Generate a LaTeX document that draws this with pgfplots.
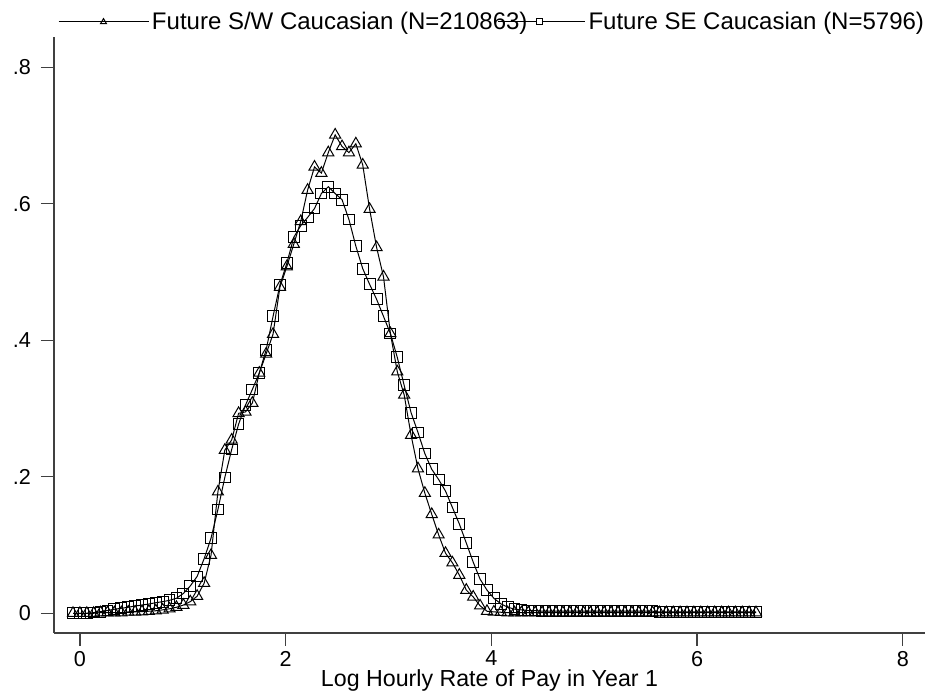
\documentclass[border=0pt]{standalone}
\usepackage{pgfplots}
\pgfplotsset{compat=1.18}
\usepackage{pgfplotstable}
\usepackage{fontspec}
\setmainfont{Liberation Sans}

\pgfplotstableread{
x y
-0.068 0.000
-0.001 0.000
0.066 0.000
0.133 0.000
0.200 0.001
0.267 0.001
0.334 0.001
0.402 0.001
0.469 0.002
0.536 0.002
0.603 0.0025
0.670 0.003
0.737 0.0037
0.804 0.005
0.871 0.0066
0.938 0.0088
1.005 0.012
1.072 0.017
1.139 0.025
1.207 0.044
1.274 0.085
1.341 0.178
1.408 0.239
1.475 0.254
1.542 0.293
1.609 0.295
1.676 0.308
1.743 0.352
1.810 0.380
1.877 0.409
1.944 0.478
2.011 0.508
2.079 0.541
2.146 0.574
2.213 0.620
2.280 0.654
2.347 0.645
2.414 0.675
2.481 0.701
2.548 0.684
2.615 0.675
2.682 0.688
2.749 0.657
2.816 0.592
2.884 0.536
2.951 0.493
3.018 0.410
3.085 0.354
3.152 0.320
3.219 0.261
3.286 0.212
3.353 0.176
3.420 0.145
3.487 0.115
3.554 0.088
3.621 0.074
3.688 0.056
3.756 0.034
3.823 0.024
3.890 0.011
3.957 0.003
4.024 0.002
4.091 0.0015
4.158 0.001
4.225 0.001
4.292 0.001
4.359 0.001
4.426 0.001
4.493 0.001
4.561 0.001
4.628 0.001
4.695 0.001
4.762 0.001
4.829 0.001
4.896 0.001
4.963 0.001
5.030 0.001
5.097 0.001
5.164 0.001
5.231 0.001
5.298 0.001
5.366 0.001
5.433 0.001
5.500 0.001
5.567 0.001
5.634 0.001
5.701 0.001
5.768 0.001
5.835 0.001
5.902 0.001
5.969 0.001
6.036 0.001
6.103 0.001
6.171 0.001
6.238 0.001
6.305 0.001
6.372 0.001
6.439 0.001
6.506 0.001
6.573 0.001
}\sw

\pgfplotstableread{
x y
-0.068 0.000
-0.001 0.000
0.066 0.000
0.133 0.001
0.200 0.0024
0.267 0.004
0.334 0.0059
0.402 0.0073
0.469 0.0088
0.536 0.0107
0.603 0.012
0.670 0.0136
0.737 0.0155
0.804 0.017
0.871 0.019
0.938 0.022
1.005 0.029
1.072 0.040
1.139 0.054
1.207 0.080
1.274 0.110
1.341 0.152
1.408 0.199
1.475 0.240
1.542 0.277
1.609 0.305
1.676 0.328
1.743 0.352
1.810 0.386
1.877 0.435
1.944 0.481
2.011 0.513
2.079 0.551
2.146 0.568
2.213 0.580
2.280 0.593
2.347 0.615
2.414 0.625
2.481 0.615
2.548 0.606
2.615 0.577
2.682 0.538
2.749 0.505
2.816 0.482
2.884 0.460
2.951 0.435
3.018 0.410
3.085 0.375
3.152 0.334
3.219 0.294
3.286 0.265
3.353 0.234
3.420 0.211
3.487 0.196
3.554 0.179
3.621 0.155
3.688 0.131
3.756 0.103
3.823 0.075
3.890 0.050
3.957 0.034
4.024 0.022
4.091 0.014
4.158 0.009
4.225 0.006
4.292 0.005
4.359 0.004
4.426 0.004
4.493 0.003
4.561 0.003
4.628 0.003
4.695 0.003
4.762 0.003
4.829 0.003
4.896 0.003
4.963 0.003
5.030 0.003
5.097 0.003
5.164 0.003
5.231 0.003
5.298 0.003
5.366 0.003
5.433 0.003
5.500 0.003
5.567 0.003
5.634 0.002
5.701 0.002
5.768 0.002
5.835 0.002
5.902 0.002
5.969 0.002
6.036 0.002
6.103 0.002
6.171 0.002
6.238 0.002
6.305 0.002
6.372 0.002
6.439 0.002
6.506 0.002
6.573 0.002
}\se

\begin{document}
\begin{tikzpicture}
\begin{axis}[
  scale only axis,
  width=435.5pt, height=298pt,
  xmin=-0.2528, xmax=8.216,
  ymin=-0.0289, ymax=0.8444,
  axis x line*=bottom, axis y line*=left,
  axis line style={-, black!75, line width=0.6pt},
  tick align=outside,
  major tick length=6.5pt,
  tick style={black!75, line width=0.6pt},
  xtick={0,2,4,6,8}, xticklabels={0,2,4,6,8},
  ytick={0,0.2,0.4,0.6,0.8}, yticklabels={0,.2,.4,.6,.8},
  minor tick num=0,
  tick label style={font=\fontsize{10.8}{12}\selectfont},
  yticklabel style={xshift=-1.5pt},
  xticklabel style={yshift=1pt},
  xlabel={Log Hourly Rate of Pay in Year 1},
  xlabel style={font=\fontsize{11.6}{13}\selectfont, at={(axis description cs:0.5,0)}, anchor=center, yshift=-24pt},
  clip=false,
  legend columns=2,
  legend style={draw=none, fill=none, inner sep=0pt, outer sep=0pt,
    at={(axis description cs:0,1)}, anchor=west, xshift=2pt, yshift=7.5pt,
    font=\fontsize{12}{14}\selectfont,
    column sep=0pt,
    nodes={inner sep=1.5pt}},
]
\addplot[black, line width=0.5pt, mark=triangle, mark size=3.2pt,
  mark options={line width=0.5pt},
  legend image code/.code={
    \draw[black, line width=0.5pt] (0pt,0pt) -- (45pt,0pt);
    \draw[black, line width=0.5pt] (22.5pt,1.7pt) -- (21pt,-0.85pt) -- (24pt,-0.85pt) -- cycle;
  }] table[x=x,y=y] {\sw};
\addlegendentry{Future S/W Caucasian (N=210863)}
\addplot[black, line width=0.5pt, mark=square, mark size=2.7pt,
  mark options={line width=0.5pt},
  legend image code/.code={
    \draw[black, line width=0.5pt, overlay] (-16.5pt,0pt) -- (0pt,0pt);
    \draw[black, line width=0.5pt] (0pt,0pt) -- (27pt,0pt);
    \draw[black, line width=0.5pt, fill=white] (2.5pt,-1.5pt) rectangle (5.5pt,1.5pt);
  }] table[x=x,y=y] {\se};
\addlegendentry{Future SE Caucasian (N=5796)}
\end{axis}
\pgfresetboundingbox
\useasboundingbox (-27pt,-33.5pt) rectangle (436.5pt,316.5pt);
\end{tikzpicture}
\end{document}
